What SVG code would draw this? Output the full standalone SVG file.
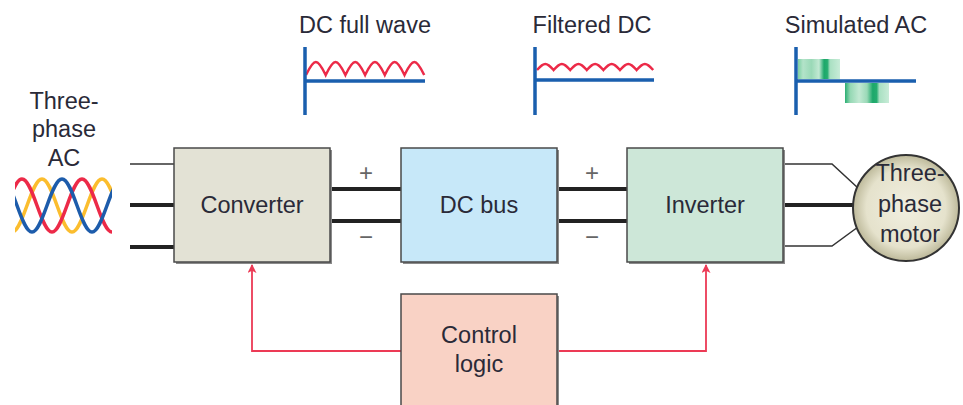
<svg xmlns="http://www.w3.org/2000/svg" width="963" height="405" viewBox="0 0 963 405">
<style>
text{font-family:"Liberation Sans",Arial,sans-serif;font-size:23.5px;fill:#2a2a38;text-anchor:middle}
.box{stroke:#4a4a4a;stroke-width:1.5}
.shadow{fill:#8a8a8a}
.thick{stroke:#222;stroke-width:4;fill:none}
.thin{stroke:#333;stroke-width:1.5;fill:none}
.ctrl{stroke:#ec3a55;stroke-width:1.8;fill:none}
.axis{stroke:#1a5fae;stroke-width:3.5;fill:none}
.wave{stroke:#ec2a48;stroke-width:2.5;fill:none}
.sign{font-size:24px;fill:#666}
.ph{stroke-width:3.5;fill:none}
</style>
<defs>
<marker id="ah" viewBox="0 0 10 10" refX="9" refY="5" markerWidth="12" markerHeight="9" orient="auto" markerUnits="userSpaceOnUse">
<path d="M0,0 L10,5 L0,10 L2.5,5 Z" fill="#ec3a55"/>
</marker>
<radialGradient id="motorG" cx="0.5" cy="0.5" r="0.5">
<stop offset="0" stop-color="#f1efe0"/>
<stop offset="0.75" stop-color="#e5e2cc"/>
<stop offset="1" stop-color="#bdb99a"/>
</radialGradient>
<linearGradient id="gPos" x1="0" x2="1" y1="0" y2="0">
<stop offset="0" stop-color="#7ccfa2"/>
<stop offset="0.12" stop-color="#b3e3c9"/>
<stop offset="0.32" stop-color="#9ad9b7"/>
<stop offset="0.5" stop-color="#c2e9d3"/>
<stop offset="0.62" stop-color="#1ca86a"/>
<stop offset="0.7" stop-color="#26ad70"/>
<stop offset="0.76" stop-color="#a9e0c2"/>
<stop offset="1" stop-color="#c8ecd8"/>
</linearGradient>
<linearGradient id="gNeg" x1="0" x2="1" y1="0" y2="0">
<stop offset="0" stop-color="#2aae72"/>
<stop offset="0.12" stop-color="#95d8b4"/>
<stop offset="0.32" stop-color="#c2e9d3"/>
<stop offset="0.5" stop-color="#9ad9b7"/>
<stop offset="0.63" stop-color="#1ca86a"/>
<stop offset="0.72" stop-color="#26ad70"/>
<stop offset="0.78" stop-color="#a9e0c2"/>
<stop offset="1" stop-color="#c8ecd8"/>
</linearGradient>
<clipPath id="waveClip"><rect x="15" y="170" width="97" height="70"/></clipPath>
</defs>
<rect width="963" height="405" fill="#ffffff"/>

<g id="three-phase-ac">
<text x="64" y="109">Three-</text>
<text x="64" y="137">phase</text>
<text x="64" y="166">AC</text>
<g clip-path="url(#waveClip)">
<path class="ph" stroke="#fbbd2e" d="M-18,179 C-7.1,179 1.1,232 12,232 C22.9,232 31.1,179 42,179 C52.9,179 61.1,232 72,232 C82.9,232 91.1,179 102,179 C112.9,179 121.1,232 132,232"/>
<path class="ph" stroke="#ec2a48" d="M-8,232 C2.9,232 11.1,179 22,179 C32.9,179 41.1,232 52,232 C62.9,232 71.1,179 82,179 C92.9,179 101.1,232 112,232 C122.9,232 131.1,179 142,179"/>
<path class="ph" stroke="#1d5cab" d="M-28,232 C-17.1,232 -8.9,179 2,179 C12.9,179 21.1,232 32,232 C42.9,232 51.1,179 62,179 C72.9,179 81.1,232 92,232 C102.9,232 111.1,179 122,179"/>
</g>
</g>

<g id="dc-full-wave">
<text x="365" y="33">DC full wave</text>
<path class="wave" d="M306,75 c8.35,-17.3 11.35,-17.3 19.7,0 c8.35,-17.3 11.35,-17.3 19.7,0 c8.35,-17.3 11.35,-17.3 19.7,0 c8.35,-17.3 11.35,-17.3 19.7,0 c8.35,-17.3 11.35,-17.3 19.7,0 c8.35,-17.3 11.35,-17.3 19.7,0"/>
<path class="axis" d="M305,47 V115 M305,81 H425"/>
</g>

<g id="filtered-dc">
<text x="592" y="33">Filtered DC</text>
<path class="wave" d="M537,70 c7,-8 9.6,-8 16.6,0 c7,-8 9.6,-8 16.6,0 c7,-8 9.6,-8 16.6,0 c7,-8 9.6,-8 16.6,0 c7,-8 9.6,-8 16.6,0 c7,-8 9.6,-8 16.6,0 c7,-8 9.6,-8 16.6,0"/>
<path class="axis" d="M535,47 V115 M535,80 H654"/>
</g>

<g id="simulated-ac">
<text x="856" y="33">Simulated AC</text>
<rect x="798" y="59" width="42" height="20" fill="url(#gPos)"/>
<rect x="845" y="83" width="44" height="20" fill="url(#gNeg)"/>
<path class="axis" d="M796,47 V115 M796,81 H916"/>
</g>

<g id="connectors">
<path class="thin" d="M130,164 H174"/>
<path class="thick" d="M130,205 H174 M130,247 H174"/>
<path class="thick" d="M330,189 H401 M330,221 H401"/>
<path class="thick" d="M557,189 H627 M557,221 H627"/>
<path class="thin" d="M783,164 H832 L858,188 M783,246 H832 L858,227"/>
<path class="thick" d="M783,205 H855"/>
<path class="ctrl" d="M401,351 H252 V265" marker-end="url(#ah)"/>
<path class="ctrl" d="M557,351 H706 V265" marker-end="url(#ah)"/>
<text class="sign" x="366" y="181">+</text>
<text class="sign" x="366" y="245">−</text>
<text class="sign" x="592" y="181">+</text>
<text class="sign" x="592" y="245">−</text>
</g>

<g id="converter">
<rect class="shadow" x="176" y="150" width="156" height="114"/>
<rect class="box" x="174" y="148" width="156" height="114" fill="#e3e2d5"/>
<text x="252" y="213">Converter</text>
</g>

<g id="dc-bus">
<rect class="shadow" x="403" y="150" width="156" height="114"/>
<rect class="box" x="401" y="148" width="156" height="114" fill="#c7e8f9"/>
<text x="479" y="213">DC bus</text>
</g>

<g id="inverter">
<rect class="shadow" x="629" y="150" width="156" height="114"/>
<rect class="box" x="627" y="148" width="156" height="114" fill="#cde7d8"/>
<text x="705" y="213">Inverter</text>
</g>

<g id="motor">
<circle cx="906" cy="208" r="53" fill="url(#motorG)" stroke="#333" stroke-width="2"/>
<text x="910" y="181">Three-</text>
<text x="910" y="212">phase</text>
<text x="910" y="242">motor</text>
</g>

<g id="control-logic">
<rect class="shadow" x="403" y="296" width="156" height="120"/>
<rect class="box" x="401" y="294" width="156" height="120" fill="#f9d2c5"/>
<text x="479" y="343">Control</text>
<text x="479" y="372">logic</text>
</g>
</svg>
